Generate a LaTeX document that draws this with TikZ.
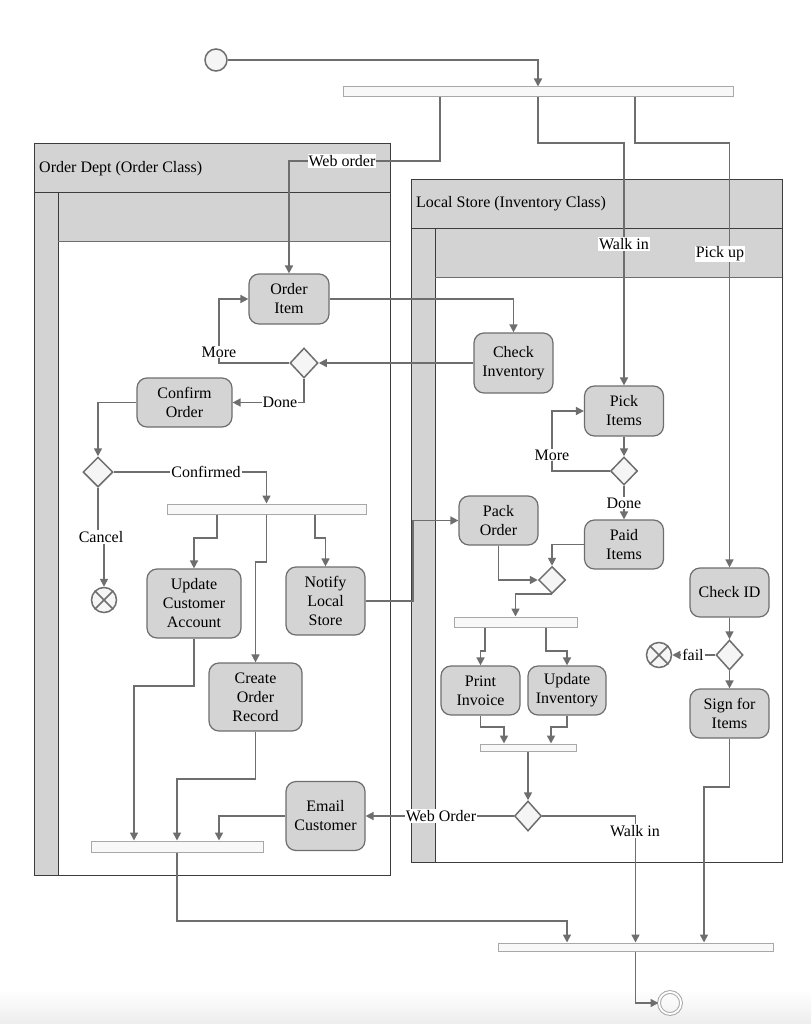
\documentclass[tikz,border=0pt]{standalone}
\usepackage{fontspec}
\setmainfont{Liberation Serif}
\usetikzlibrary{arrows.meta,shapes.geometric}
\definecolor{lanegray}{HTML}{D3D3D3}
\definecolor{actfill}{HTML}{D4D4D4}
\definecolor{edgegray}{HTML}{6E6E6E}
\definecolor{barfill}{HTML}{F8F8F8}
\definecolor{barline}{HTML}{A8A8A8}
\definecolor{lanebd}{HTML}{3C3C3C}
\definecolor{decfill}{HTML}{F5F5F5}
\newcommand{\dfont}{\fontsize{16}{19}\selectfont}
\pgfdeclarelayer{background}
\pgfsetlayers{background,main}
\begin{document}
\begin{tikzpicture}[x=1pt,y=-1pt,
  act/.style={draw=edgegray,fill=actfill,rounded corners=10pt,line width=1.2pt,align=center,inner sep=0pt,font=\dfont},
  dec/.style={diamond,draw=edgegray,fill=decfill,line width=1.5pt,inner sep=0pt,minimum width=28pt,minimum height=30pt},
  syncbar/.style={rectangle,draw=barline,fill=barfill,line width=1pt,inner sep=0pt},
  startc/.style={circle,draw=edgegray,fill=decfill,line width=1.5pt,minimum size=22pt,inner sep=0pt},
  endc/.style={circle,draw=barline,line width=1pt,double=white,double distance=1.8pt,minimum size=22pt,inner sep=0pt},
  ffin/.style={circle,draw=edgegray,fill=decfill,line width=1.5pt,minimum size=25pt,inner sep=0pt},
  flow/.style={draw=edgegray,line width=1.6pt,-{Triangle[length=8pt,width=8pt]}},
  lbl/.style={fill=white,inner sep=1pt,font=\dfont},
  lanebox/.style={draw=lanebd,line width=1pt},
]
\useasboundingbox (0,0) rectangle (811,1024);

% ---------- nodes ----------
\node[startc] (start) at (216,60) {};
\node[syncbar,minimum width=390pt,minimum height=10pt] (bar0) at (538,92) {};

\node[act,minimum width=80pt,minimum height=50pt] (orderitem) at (289,299) {Order\\Item};
\node[act,minimum width=79pt,minimum height=60pt] (checkinv) at (513.5,363) {Check\\Inventory};
\node[dec] (d1) at (304,363) {};
\node[act,minimum width=95pt,minimum height=49pt] (confirm) at (184.5,402.5) {Confirm\\Order};
\node[dec,minimum width=30pt] (d2) at (98,472) {};
\node[syncbar,minimum width=199pt,minimum height=10pt] (bar1) at (266.5,509) {};
\node[ffin] (ff1) at (104,600) {};
\node[act,minimum width=94pt,minimum height=69pt] (updcust) at (194,603.5) {Update\\Customer\\Account};
\node[act,minimum width=79pt,minimum height=68pt] (notify) at (325.5,601) {Notify\\Local\\Store};
\node[act,minimum width=93pt,minimum height=68pt] (create) at (255.5,697) {Create\\Order\\Record};
\node[act,minimum width=79pt,minimum height=69pt] (email) at (325.5,816) {Email\\Customer};
\node[syncbar,minimum width=172pt,minimum height=11pt] (bar2) at (177,846.5) {};

\node[act,minimum width=79pt,minimum height=50pt] (pick) at (624,411) {Pick\\Items};
\node[dec,minimum width=27pt,minimum height=28pt] (d3) at (624,471) {};
\node[act,minimum width=79pt,minimum height=49pt] (paid) at (624,544.5) {Paid\\Items};
\node[act,minimum width=79pt,minimum height=49pt] (pack) at (498.5,520.5) {Pack\\Order};
\node[dec,minimum width=27pt,minimum height=27pt] (d4) at (552,580) {};
\node[syncbar,minimum width=123pt,minimum height=10pt] (bar3) at (515.5,622) {};
\node[act,minimum width=79pt,minimum height=49pt] (print) at (480.5,690.5) {Print\\Invoice};
\node[act,minimum width=78pt,minimum height=49pt] (updinv) at (567,690.5) {Update\\Inventory};
\node[syncbar,minimum width=96pt,minimum height=7pt] (bar4) at (528,747.5) {};
\node[dec,minimum width=27pt] (d5) at (528,816) {};

\node[act,minimum width=79pt,minimum height=49pt] (checkid) at (729.5,592.5) {Check ID};
\node[dec,minimum width=27pt] (d6) at (729.5,655) {};
\node[ffin] (ff2) at (659,655) {};
\node[act,minimum width=79pt,minimum height=49pt] (sign) at (729.5,713.5) {Sign for\\Items};

\node[syncbar,minimum width=275pt,minimum height=8pt] (bar5) at (635.5,947) {};
\node[endc] (end) at (670,1003) {};

% crosses in flow-final nodes
\foreach \n in {ff1,ff2}{
  \draw[edgegray,line width=1.5pt] (\n.north east) -- (\n.south west);
  \draw[edgegray,line width=1.5pt] (\n.north west) -- (\n.south east);
}

% ---------- swimlanes ----------
\begin{pgfonlayer}{background}
  \shade[top color=white,bottom color=black!7] (0,990) rectangle (811,1024);
  % Order Dept
  \fill[white] (34,144) rectangle (390,875);
  \fill[lanegray] (34,144) rectangle (390,193);
  \fill[lanegray] (34,193) rectangle (58,875);
  \fill[lanegray] (58,193) rectangle (390,241);
  \draw[lanebox] (34,144) rectangle (390,875);
  \draw[lanebox] (34,193) -- (390,193);
  \draw[lanebox] (58,193) -- (58,875);
  \draw[lanebox,draw=edgegray] (58,241) -- (390,241);
  \node[anchor=west,font=\dfont,inner sep=0pt] (lane1title) at (39,169) {Order Dept (Order Class)};
  % Local Store
  \fill[white] (411,180) rectangle (782,862);
  \fill[lanegray] (411,180) rectangle (782,229);
  \fill[lanegray] (411,229) rectangle (435,862);
  \fill[lanegray] (435,229) rectangle (782,277);
  \draw[lanebox] (411,180) rectangle (782,862);
  \draw[lanebox] (411,229) -- (782,229);
  \draw[lanebox] (435,229) -- (435,862);
  \draw[lanebox,draw=edgegray] (435,277) -- (782,277);
  \node[anchor=west,font=\dfont,inner sep=0pt] (lane2title) at (416,204) {Local Store (Inventory Class)};
\end{pgfonlayer}

% ---------- connectors ----------
\draw[flow] (start) -- (538,60) -- (bar0.north);
\draw[flow] ([xshift=-98pt]bar0.south) -- (440,161) -| (orderitem.north);
\draw[flow] (bar0.south) -- (538,143) -| (pick.north);
\draw[flow] ([xshift=97pt]bar0.south) -- (635,143) -| (checkid.north);

\draw[flow] (orderitem.east) -| (checkinv.north);
\draw[flow] (checkinv.west) -- (d1.east);
\draw[flow] (d1.west) -- (219,363) |- (orderitem.west);
\draw[flow] (d1.south) |- (confirm.east);
\draw[flow] (confirm.west) -| (d2.north);
\draw[flow] (d2.east) -| (bar1.north);
\draw[flow] (d2.south) -- (98,537) -| (ff1.north);
\draw[flow] ([xshift=-49.5pt]bar1.south) -- (217,538) -| (updcust.north);
\draw[flow] (bar1.south) -- (266.5,562) -| (create.north);
\draw[flow] ([xshift=48.5pt]bar1.south) -- (315,538) -| (notify.north);
\draw[flow] (notify.east) -- (413,601) |- (pack.west);
\draw[flow] (updcust.south) -- (194,686) -| ([xshift=-43pt]bar2.north);
\draw[flow] (create.south) -- (255.5,779) -| (bar2.north);
\draw[flow] (email.west) -| ([xshift=42pt]bar2.north);
\draw[flow] (bar2.south) -- (177,921) -| ([xshift=-68.5pt]bar5.north);

\draw[flow] (pick.south) -- (d3.north);
\draw[flow] (d3.west) -- (552,471) |- (pick.west);
\draw[flow] (d3.south) -- (paid.north);
\draw[flow] (pack.south) |- (d4.west);
\draw[flow] (paid.west) -| (d4.north);
\draw[flow] (d4.south) -| (bar3.north);
\draw[flow] ([xshift=-30.5pt]bar3.south) -- (485,651) -| (print.north);
\draw[flow] ([xshift=30.5pt]bar3.south) -- (546,651) -| (updinv.north);
\draw[flow] (print.south) -- (480.5,727) -| ([xshift=-24pt]bar4.north);
\draw[flow] (updinv.south) -- (567,727) -| ([xshift=23pt]bar4.north);
\draw[flow] (bar4.south) -- (d5.north);
\draw[flow] (d5.west) -- (email.east);
\draw[flow] (d5.east) -| (bar5.north);

\draw[flow] (checkid.south) -- (d6.north);
\draw[flow] (d6.west) -- (ff2.east);
\draw[flow] (d6.south) -- (sign.north);
\draw[flow] (sign.south) -- (729.5,787) -| ([xshift=68.5pt]bar5.north);
\draw[flow] (bar5.south) -- (635.5,1003) -- (end.west);

% ---------- labels ----------
\node[lbl] (lweb) at (342,161) {Web order};
\node[lbl] (lwalk) at (624,244) {Walk in};
\node[lbl] (lpick) at (720,254) {Pick up};
\node[lbl] (lmore1) at (219,352) {More};
\node[lbl] (ldone1) at (280,402.5) {Done};
\node[lbl] (lconf) at (206,472) {Confirmed};
\node[lbl] (lcancel) at (101,537) {Cancel};
\node[lbl] (lmore2) at (552,455) {More};
\node[lbl] (ldone2) at (624,503) {Done};
\node[lbl] (lfail) at (693,655) {fail};
\node[lbl] (lweb2) at (441,816) {Web Order};
\node[lbl] (lwalk2) at (635,831) {Walk in};
\end{tikzpicture}
\end{document}
